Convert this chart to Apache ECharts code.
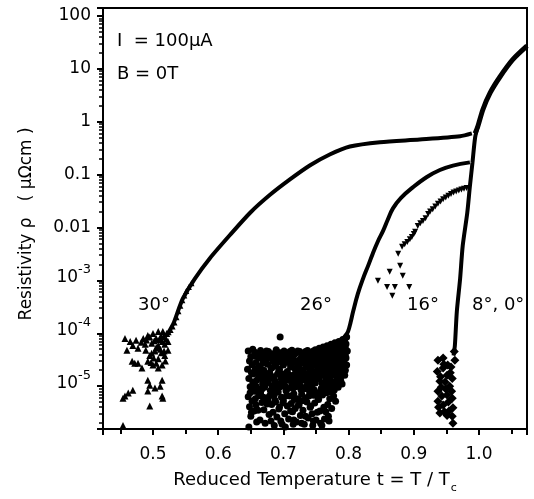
<!DOCTYPE html>
<html>
<head>
<meta charset="utf-8">
<title>Resistivity vs reduced temperature</title>
<script src="https://cdn.jsdelivr.net/npm/echarts@6/dist/echarts.min.js"></script>
<style>
html,body{margin:0;padding:0;background:#fff;}
#chart{width:534px;height:499px;}
</style>
</head>
<body>
<div id="chart"></div>
<script>
// axis ranges (t = T/Tc, rho in uOhm cm)
var tMin = 0.4233, tMax = 1.0736;
var rhoMin = 1.55e-6, rhoMax = 141;

// 30 deg: noise below 1e-4 and the transition curve
var noise30 = [[0.457,8.0e-5],[0.465,7.0e-5],[0.460,4.8e-5],[0.469,5.9e-5],[0.477,5.2e-5],[0.485,8.0e-5],
	[0.492,9.1e-5],[0.500,9.9e-5],[0.508,1.08e-4],[0.515,1.08e-4],[0.521,9.9e-5],[0.523,7.0e-5],[0.514,7.0e-5],
	[0.508,5.9e-5],[0.503,4.6e-5],[0.495,3.8e-5],[0.492,2.95e-5],[0.500,2.5e-5],[0.508,2.2e-5],[0.514,2.5e-5],
	[0.518,3.8e-5],[0.523,4.8e-5],[0.468,2.95e-5],[0.472,2.7e-5],[0.477,2.7e-5],[0.483,2.2e-5],[0.492,1.3e-5],
	[0.495,1.04e-5],[0.514,1.3e-5],[0.511,1.0e-5],[0.503,9.2e-6],[0.492,8.1e-6],[0.469,8.4e-6],[0.462,7.4e-6],
	[0.457,6.5e-6],[0.454,5.9e-6],[0.495,4.2e-6],[0.514,6.5e-6],[0.515,5.9e-6],[0.454,1.8e-6],[0.498,6.5e-5],
	[0.505,8.0e-5],[0.512,8.8e-5],[0.518,6.2e-5],[0.488,6.2e-5],[0.498,4.2e-5],[0.508,3.3e-5],[0.513,4.3e-5],
	[0.490,7.5e-5],[0.495,8.5e-5],[0.502,7.2e-5],[0.510,7.6e-5],[0.516,8.6e-5],[0.520,7.8e-5],[0.505,5.4e-5],
	[0.511,5.0e-5],[0.517,4.6e-5],[0.501,3.4e-5],[0.497,2.8e-5],[0.505,2.7e-5],[0.489,4.8e-5],[0.482,6.8e-5],
	[0.474,7.4e-5],[0.519,3.0e-5]];
var rise30 = [[0.524,1.05e-4],[0.527,1.15e-4],[0.530,1.35e-4],[0.533,1.6e-4],[0.536,2.0e-4],[0.539,2.6e-4],
	[0.542,3.3e-4],[0.545,4.2e-4],[0.548,5.2e-4],[0.551,6.3e-4],[0.555,7.5e-4],[0.559,8.8e-4]];
var curve30 = [[0.523,1.0e-4],[0.532,1.6e-4],[0.540,3.0e-4],[0.546,4.6e-4],[0.564,1.07e-3],[0.587,2.6e-3],
	[0.618,7.2e-3],[0.649,0.019],[0.679,0.041],[0.710,0.081],[0.741,0.15],[0.771,0.24],[0.802,0.34],
	[0.848,0.41],[0.909,0.46],[0.971,0.53],[0.989,0.6]];

// 26 deg: cloud of points and the transition curve
var cloud26 = [
	[0.646,4.6e-5],[0.648,3.0e-5],[0.645,2.1e-5],[0.647,1.4e-5],[0.649,9.8e-6],[0.646,6.3e-6],[0.648,4.1e-6],[0.650,2.7e-6],[0.647,1.7e-6],
	[0.653,5.0e-5],[0.655,3.7e-5],[0.652,2.5e-5],[0.654,1.7e-5],[0.653,1.2e-5],[0.656,8.0e-6],[0.652,5.2e-6],[0.655,3.4e-6],
	[0.660,4.2e-5],[0.658,2.8e-5],[0.661,1.9e-5],[0.659,1.3e-5],[0.660,9.0e-6],[0.662,6.6e-6],[0.658,4.4e-6],
	[0.665,4.7e-5],[0.667,3.3e-5],[0.664,2.3e-5],[0.666,1.6e-5],[0.668,1.1e-5],[0.665,7.4e-6],[0.667,4.9e-6],[0.664,2.3e-6],
	[0.671,4.0e-5],[0.672,2.9e-5],[0.670,2.0e-5],[0.673,1.4e-5],[0.671,9.5e-6],[0.674,6.0e-6],[0.670,3.6e-6],[0.672,2.0e-6],
	[0.677,4.5e-5],[0.678,3.5e-5],[0.676,2.6e-5],[0.679,1.8e-5],[0.677,1.2e-5],[0.680,8.3e-6],[0.676,5.5e-6],[0.678,2.9e-6],
	[0.683,4.1e-5],[0.684,3.0e-5],[0.682,2.2e-5],[0.685,1.5e-5],[0.683,1.0e-5],[0.686,6.9e-6],[0.682,4.5e-6],[0.684,3.2e-6],[0.686,1.8e-6],
	[0.689,4.9e-5],[0.690,3.6e-5],[0.688,2.4e-5],[0.691,1.7e-5],[0.689,1.15e-5],[0.692,7.8e-6],[0.688,5.0e-6],[0.690,2.6e-6],
	[0.695,8.5e-5],[0.695,4.3e-5],[0.697,3.1e-5],[0.694,2.1e-5],[0.696,1.45e-5],[0.695,9.7e-6],[0.697,6.2e-6],[0.694,4.0e-6],[0.696,2.2e-6],
	[0.701,4.6e-5],[0.702,3.4e-5],[0.700,2.5e-5],[0.703,1.7e-5],[0.701,1.2e-5],[0.704,8.2e-6],[0.700,5.3e-6],[0.702,3.0e-6],[0.703,1.7e-6],
	[0.707,4.0e-5],[0.708,2.8e-5],[0.706,1.9e-5],[0.709,1.3e-5],[0.707,9.0e-6],[0.710,6.5e-6],[0.706,4.2e-6],[0.708,2.4e-6],
	[0.713,4.8e-5],[0.714,3.5e-5],[0.712,2.4e-5],[0.715,1.6e-5],[0.713,1.1e-5],[0.716,7.2e-6],[0.712,4.7e-6],[0.714,3.3e-6],[0.715,1.9e-6],
	[0.719,4.2e-5],[0.720,3.0e-5],[0.718,2.1e-5],[0.721,1.45e-5],[0.719,9.8e-6],[0.722,5.8e-6],[0.718,3.8e-6],[0.720,2.1e-6],
	[0.725,4.5e-5],[0.726,3.3e-5],[0.724,2.3e-5],[0.727,1.6e-5],[0.725,1.05e-5],[0.728,7.0e-6],[0.724,4.4e-6],[0.726,2.8e-6],
	[0.731,4.1e-5],[0.732,2.9e-5],[0.730,2.0e-5],[0.733,1.35e-5],[0.731,8.8e-6],[0.734,6.0e-6],[0.730,3.5e-6],[0.732,1.9e-6],
	[0.737,4.7e-5],[0.738,3.6e-5],[0.736,2.6e-5],[0.739,1.8e-5],[0.737,1.2e-5],[0.740,8.0e-6],[0.736,5.0e-6],[0.738,2.5e-6],
	[0.743,4.3e-5],[0.744,3.1e-5],[0.742,2.2e-5],[0.745,1.5e-5],[0.743,1.0e-5],[0.746,6.7e-6],[0.742,4.2e-6],[0.744,3.0e-6],[0.745,1.8e-6],
	[0.749,4.9e-5],[0.750,3.7e-5],[0.748,2.5e-5],[0.751,1.7e-5],[0.749,1.15e-5],[0.752,7.5e-6],[0.748,4.8e-6],[0.750,2.3e-6],
	[0.755,5.2e-5],[0.756,4.0e-5],[0.754,2.9e-5],[0.757,2.0e-5],[0.755,1.4e-5],[0.758,9.0e-6],[0.754,5.6e-6],[0.756,3.4e-6],[0.757,2.0e-6],
	[0.761,5.5e-5],[0.762,4.3e-5],[0.760,3.2e-5],[0.763,2.3e-5],[0.761,1.6e-5],[0.764,1.05e-5],[0.760,6.8e-6],[0.762,4.0e-6],[0.763,2.4e-6],
	[0.767,5.8e-5],[0.768,4.5e-5],[0.766,3.4e-5],[0.769,2.4e-5],[0.767,1.7e-5],[0.770,1.15e-5],[0.766,7.5e-6],[0.768,4.5e-6],[0.769,2.7e-6],
	[0.773,6.2e-5],[0.774,4.7e-5],[0.772,3.5e-5],[0.775,2.6e-5],[0.773,1.8e-5],[0.776,1.2e-5],[0.772,7.8e-6],[0.774,3.8e-6],
	[0.779,6.6e-5],[0.780,5.0e-5],[0.778,3.8e-5],[0.781,2.8e-5],[0.779,1.9e-5],[0.782,1.3e-5],[0.778,8.5e-6],[0.780,5.2e-6],
	[0.785,7.0e-5],[0.786,5.3e-5],[0.784,4.0e-5],[0.787,3.0e-5],[0.785,2.1e-5],[0.788,1.5e-5],[0.784,9.5e-6],
	[0.791,7.6e-5],[0.792,5.7e-5],[0.790,4.3e-5],[0.793,3.2e-5],[0.791,2.3e-5],[0.794,1.6e-5],[0.790,1.1e-5],
	[0.797,8.5e-5],[0.796,6.3e-5],[0.798,4.6e-5],[0.796,3.4e-5],[0.797,2.5e-5],
	[0.650,3.6e-5],[0.651,1.8e-5],[0.649,7.5e-6],[0.651,3.2e-6],
	[0.656,4.4e-5],[0.657,2.1e-5],[0.658,1.0e-5],[0.657,5.8e-6],[0.659,2.1e-6],
	[0.662,3.5e-5],[0.663,2.4e-5],[0.663,1.55e-5],[0.661,3.5e-6],
	[0.668,4.0e-5],[0.669,2.7e-5],[0.669,1.3e-5],[0.667,8.8e-6],[0.669,6.2e-6],
	[0.674,4.6e-5],[0.675,3.4e-5],[0.675,1.65e-5],[0.673,1.1e-5],[0.675,4.6e-6],
	[0.680,3.9e-5],[0.681,2.2e-5],[0.681,1.45e-5],[0.679,6.6e-6],[0.681,2.2e-6],
	[0.686,3.5e-5],[0.687,2.6e-5],[0.687,1.25e-5],[0.685,8.6e-6],[0.687,5.4e-6],
	[0.692,4.3e-5],[0.693,2.9e-5],[0.693,2.0e-5],[0.691,9.6e-6],[0.693,3.7e-6],
	[0.698,3.7e-5],[0.699,2.6e-5],[0.699,1.7e-5],[0.697,1.15e-5],[0.699,4.8e-6],[0.698,1.9e-6],
	[0.704,4.1e-5],[0.705,2.9e-5],[0.705,1.45e-5],[0.703,1.0e-5],[0.705,6.6e-6],
	[0.710,4.5e-5],[0.711,3.3e-5],[0.711,2.3e-5],[0.709,1.6e-5],[0.711,3.4e-6],
	[0.716,3.9e-5],[0.717,2.8e-5],[0.717,1.3e-5],[0.715,9.2e-6],[0.717,5.6e-6],[0.716,2.3e-6],
	[0.722,4.6e-5],[0.723,2.5e-5],[0.723,1.75e-5],[0.721,1.2e-5],[0.723,4.4e-6],
	[0.728,4.0e-5],[0.729,2.7e-5],[0.729,1.3e-5],[0.727,8.6e-6],[0.729,5.3e-6],[0.728,2.0e-6],
	[0.734,4.5e-5],[0.735,3.4e-5],[0.735,2.3e-5],[0.733,1.6e-5],[0.735,1.0e-5],[0.734,2.7e-6],
	[0.740,4.0e-5],[0.741,2.8e-5],[0.741,1.45e-5],[0.739,6.5e-6],[0.741,4.0e-6],
	[0.746,4.6e-5],[0.747,3.4e-5],[0.747,1.9e-5],[0.745,1.25e-5],[0.747,8.6e-6],[0.746,2.2e-6],
	[0.752,4.3e-5],[0.753,3.2e-5],[0.753,2.2e-5],[0.751,1.4e-5],[0.753,6.0e-6],[0.752,3.2e-6],
	[0.758,4.7e-5],[0.759,3.5e-5],[0.759,2.5e-5],[0.757,1.7e-5],[0.759,1.15e-5],[0.758,7.5e-6],[0.759,1.8e-6],
	[0.764,5.0e-5],[0.765,3.8e-5],[0.765,2.7e-5],[0.763,1.9e-5],[0.765,1.3e-5],[0.764,8.7e-6],[0.765,3.3e-6],
	[0.770,5.3e-5],[0.771,4.0e-5],[0.771,2.9e-5],[0.769,2.1e-5],[0.771,1.45e-5],[0.770,9.5e-6],[0.771,5.8e-6],[0.770,2.2e-6],
	[0.776,5.6e-5],[0.777,4.3e-5],[0.777,3.2e-5],[0.775,2.2e-5],[0.777,1.6e-5],[0.776,1.0e-5],[0.777,6.5e-6],
	[0.782,6.0e-5],[0.783,4.5e-5],[0.783,3.4e-5],[0.781,2.4e-5],[0.783,1.7e-5],[0.782,1.1e-5],
	[0.788,6.4e-5],[0.789,4.8e-5],[0.789,3.6e-5],[0.787,2.6e-5],[0.789,1.8e-5],[0.788,1.25e-5],
	[0.794,7.0e-5],[0.795,5.2e-5],[0.795,3.9e-5],[0.793,2.8e-5],[0.795,2.0e-5]];
var curve26 = [[0.756,4.6e-5],[0.772,5.5e-5],[0.787,7e-5],[0.795,9e-5],[0.799,1.07e-4],[0.803,1.6e-4],
	[0.807,2.6e-4],[0.814,5.5e-4],[0.822,1.07e-3],[0.830,1.9e-3],[0.837,3.2e-3],[0.845,5.5e-3],[0.853,8.7e-3],
	[0.860,0.014],[0.868,0.023],[0.880,0.036],[0.899,0.058],[0.920,0.09],[0.940,0.122],[0.960,0.148],[0.986,0.17]];

// 16 deg (inverted triangles)
var curve16 = [[0.845,9.8e-4],[0.859,7.5e-4],[0.867,5.1e-4],[0.871,7.5e-4],[0.893,7.5e-4],[0.863,1.45e-3],
	[0.883,1.22e-3],[0.879,1.9e-3],[0.876,3.2e-3],[0.882,4.3e-3],[0.886,4.8e-3],[0.890,5.3e-3],[0.894,6.0e-3],
	[0.897,6.6e-3],[0.900,7.5e-3],[0.902,8.3e-3],[0.906,0.0107],[0.910,0.012],[0.914,0.0133],[0.918,0.015],
	[0.922,0.018],[0.925,0.020],[0.929,0.022],[0.933,0.025],[0.937,0.028],[0.941,0.031],[0.945,0.034],
	[0.949,0.037],[0.953,0.040],[0.957,0.043],[0.961,0.046],[0.965,0.048],[0.969,0.050],[0.973,0.052],
	[0.977,0.054],[0.981,0.056]];

// 8 deg, 0 deg (diamonds)
var noise8 = [[0.937,3.1e-5],[0.945,3.4e-5],[0.952,2.5e-5],[0.936,1.9e-5],[0.951,1.6e-5],[0.959,1.4e-5],
	[0.940,1.24e-5],[0.955,1.0e-5],[0.937,8.0e-6],[0.943,6.5e-6],[0.959,5.9e-6],[0.937,5.2e-6],[0.945,4.4e-6],
	[0.940,3.1e-6],[0.951,2.8e-6],[0.959,2.7e-6],[0.960,3.9e-6],[0.951,6.8e-6],[0.945,2.2e-5],[0.963,3.1e-5],
	[0.960,2.0e-6],[0.948,1.2e-5],[0.956,1.8e-5],[0.942,9.5e-6],[0.938,4.0e-6],[0.949,8.8e-6],[0.953,5.0e-6],
	[0.946,2.6e-5],[0.957,2.3e-5],[0.941,1.5e-5],[0.954,3.4e-6],[0.947,3.3e-6],[0.962,4.5e-5],[0.958,8.0e-6]];
var curve8 = [[0.961,3.8e-5],[0.963,5.9e-5],[0.966,2.6e-4],[0.971,1.07e-3],[0.975,4.5e-3],[0.982,0.019],
	[0.986,0.06],[0.990,0.17],[0.994,0.5],[0.998,0.8]];

// normal state, all angles together
var normalState = [[0.994,0.6],[0.998,0.8],[1.006,1.7],[1.017,3.5],[1.032,7],[1.052,15],[1.0736,27]];

// text
var angleLabels = ['30°', '26°', '16°', '8°, 0°'];

var FONT = '"DejaVu Sans", sans-serif';

function rhoLabel(v){
	var e = Math.round(Math.log(v) / Math.LN10);
	if (Math.abs(Math.log(v) / Math.LN10 - e) > 1e-6) return '';
	if (e >= -2) {
		return e >= 0 ? String(Math.pow(10, e)) : Math.pow(10, e).toFixed(-e);
	}
	return '{b|10}{sup|' + e + '}';
}

function tLabel(v){
	if (Math.abs(v * 10 - Math.round(v * 10)) > 1e-6) return '';
	return v.toFixed(1);
}

function scatterSeries(data, symbol, size, rotate){
	return {
		type: 'scatter', data: data, symbol: symbol, symbolSize: size, symbolRotate: rotate || 0,
		itemStyle: { color: '#000', opacity: 1 }, silent: true
	};
}

function lineSeries(data, width, smooth){
	return {
		type: 'line', data: data, showSymbol: false, smooth: smooth || 0.25,
		lineStyle: { color: '#000', width: width }, silent: true
	};
}

function angleText(i, x){
	return { type: 'text', left: x, top: 296, style: { text: angleLabels[i], font: '18px ' + FONT, fill: '#000' } };
}

var chart = echarts.init(document.getElementById('chart'));
chart.setOption({
	animation: false,
	backgroundColor: '#fff',
	grid: { left: 103, right: 7, top: 8, bottom: 68, show: true, borderColor: '#000', borderWidth: 2 },
	xAxis: {
		type: 'value', min: tMin, max: tMax,
		name: 'Reduced Temperature t = T / T{sub|c}',
		nameLocation: 'middle', nameGap: 38,
		nameTextStyle: { fontFamily: FONT, fontSize: 18, color: '#000',
			rich: { sub: { fontFamily: FONT, fontSize: 11, color: '#000', padding: [16, 0, 0, 1] } } },
		axisLine: { lineStyle: { color: '#000', width: 2 } },
		axisTick: { length: 6, lineStyle: { color: '#000', width: 2 } },
		minorTick: { show: true, splitNumber: 2, length: 5, lineStyle: { color: '#000', width: 2 } },
		axisLabel: { formatter: tLabel, margin: 17, fontFamily: FONT, fontSize: 17, color: '#000' },
		splitLine: { show: false }
	},
	yAxis: {
		type: 'log', logBase: 10, min: rhoMin, max: rhoMax,
		name: 'Resistivity ρ   ( μΩcm )  ',
		nameLocation: 'middle', nameGap: 68,
		nameTextStyle: { fontFamily: FONT, fontSize: 17, color: '#000' },
		axisLine: { lineStyle: { color: '#000', width: 2 } },
		axisTick: { length: 6, lineStyle: { color: '#000', width: 2 } },
		minorTick: { show: true, splitNumber: 9, length: 4, lineStyle: { color: '#000', width: 1.5 } },
		axisLabel: {
			formatter: rhoLabel, margin: 12, fontFamily: FONT, fontSize: 17, color: '#000',
			showMinLabel: false, showMaxLabel: false,
			rich: {
				b: { fontFamily: FONT, fontSize: 17, color: '#000', padding: [0, 0, 6, 0] },
				sup: { fontFamily: FONT, fontSize: 13, color: '#000', padding: [0, 0, 22, 0] }
			}
		},
		splitLine: { show: false }
	},
	graphic: [
		{ type: 'text', left: 117, top: 32, style: { text: 'I  = 100μA', font: '18px ' + FONT, fill: '#000' } },
		{ type: 'text', left: 117, top: 65, style: { text: 'B = 0T', font: '18px ' + FONT, fill: '#000' } },
		angleText(0, 138), angleText(1, 300), angleText(2, 407), angleText(3, 472)
	],
	series: [
		scatterSeries(noise30, 'triangle', 7),
		lineSeries(curve30, 4),
		scatterSeries(rise30, 'triangle', 6),
		scatterSeries(cloud26, 'circle', 7),
		lineSeries(curve26, 4, 0.4),
		scatterSeries(curve16, 'triangle', 6, 180),
		scatterSeries(noise8, 'diamond', 9),
		lineSeries(curve8, 4),
		lineSeries(normalState, 5)
	]
});
</script>
</body>
</html>
